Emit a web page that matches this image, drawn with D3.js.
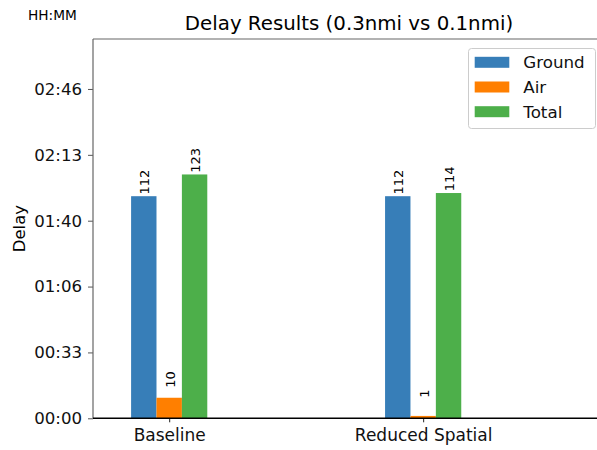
<!DOCTYPE html>
<html>
<head>
<meta charset="utf-8">
<script src="https://cdn.jsdelivr.net/npm/d3@7"></script>
<style>
  html, body { margin: 0; padding: 0; background: #fff; }
  svg { display: block; font-family: "DejaVu Sans", sans-serif; }
</style>
</head>
<body>
<svg id="chart" width="597" height="450"></svg>
<script>
// ---- data (delay in minutes) ----
const categories = ["Baseline", "Reduced Spatial"];
const seriesNames = ["Ground", "Air", "Total"];
const ground = [112.4, 112.4];
const air = [10.4, 1.2];
const total = [123.4, 114.0];
const yTicksSeconds = [0, 2000, 4000, 6000, 8000, 10000];
const colors = ["#377eb8", "#ff7f00", "#4daf4a"];
const titleText = "Delay Results (0.3nmi vs 0.1nmi)";

const series = [ground, air, total];

const svg = d3.select("#chart");
const margin = { left: 93, top: 39, right: 605, bottom: 418.3 };

const x = d3.scaleLinear().domain([-0.3, 1.716]).range([margin.left, margin.right]);
const y = d3.scaleLinear().domain([0, 11517]).range([margin.bottom, margin.top]);
const barW = 0.1;

function fmt(sec) {
  const totalMin = Math.floor(sec / 60);
  const h = Math.floor(totalMin / 60), m = totalMin % 60;
  return String(h).padStart(2, "0") + ":" + String(m).padStart(2, "0");
}

// bars
series.forEach((vals, si) => {
  const g = svg.append("g");
  g.selectAll("rect").data(vals).enter().append("rect")
    .attr("x", (d, i) => x(i + (si - 1) * barW - barW / 2))
    .attr("width", x(barW) - x(0))
    .attr("y", d => y(d * 60))
    .attr("height", d => y(0) - y(d * 60))
    .attr("fill", colors[si]);
  g.selectAll("text").data(vals).enter().append("text")
    .attr("transform", (d, i) => `translate(${x(i + (si - 1) * barW) + 1},${y(d * 60) - 26.5}) rotate(-90)`)
    .attr("text-anchor", "end")
    .attr("dominant-baseline", "central")
    .attr("font-size", 13)
    .attr("fill", "#000")
    .text(d => Math.round(d));
});

// y axis
const yAxis = d3.axisLeft(y).tickValues(yTicksSeconds).tickFormat(fmt).tickSize(5).tickPadding(6);
const gy = svg.append("g").attr("transform", `translate(${margin.left},0)`).call(yAxis);
gy.select(".domain").remove();
gy.selectAll(".tick line").attr("stroke", "#555");
gy.selectAll(".tick text").attr("font-size", 16.6).attr("font-family", "DejaVu Sans").attr("fill", "#111");

// x axis
const xAxis = d3.axisBottom(x).tickValues(categories.map((c, i) => i)).tickFormat(i => categories[i]).tickSize(4).tickPadding(7);
const gx = svg.append("g").attr("transform", `translate(0,${margin.bottom})`).call(xAxis);
gx.select(".domain").remove();
gx.selectAll(".tick line").attr("stroke", "#222");
gx.selectAll(".tick text").attr("font-size", 17).attr("font-family", "DejaVu Sans").attr("fill", "#111");

// spines
svg.append("line").attr("x1", margin.left).attr("x2", margin.left).attr("y1", margin.top).attr("y2", margin.bottom)
  .attr("stroke", "#666").attr("stroke-width", 1.2);
svg.append("line").attr("x1", margin.left).attr("x2", margin.right).attr("y1", margin.top).attr("y2", margin.top)
  .attr("stroke", "#666").attr("stroke-width", 1.2);
svg.append("line").attr("x1", margin.left).attr("x2", margin.right).attr("y1", margin.bottom).attr("y2", margin.bottom)
  .attr("stroke", "#000").attr("stroke-width", 1.5);

// title
svg.append("text").attr("x", (margin.left + margin.right) / 2).attr("y", 30)
  .attr("text-anchor", "middle").attr("font-size", 19.8).attr("fill", "#000").text(titleText);

// HH:MM
svg.append("text").attr("x", 28).attr("y", 20).attr("font-size", 13.7).attr("fill", "#000").text("HH:MM");

// y label
svg.append("text").attr("transform", `translate(25,${(margin.top + margin.bottom) / 2}) rotate(-90)`)
  .attr("text-anchor", "middle").attr("font-size", 16.5).attr("fill", "#000").text("Delay");

// legend
const lg = svg.append("g");
lg.append("rect").attr("x", 468.5).attr("y", 48.5).attr("width", 127).attr("height", 80)
  .attr("rx", 3).attr("fill", "#fff").attr("fill-opacity", 0.8).attr("stroke", "#ccc");
seriesNames.forEach((n, i) => {
  const cy = 62.3 + i * 24.7;
  lg.append("rect").attr("x", 474.7).attr("y", cy - 5.5).attr("width", 34.6).attr("height", 11).attr("fill", colors[i]);
  lg.append("text").attr("x", 523.3).attr("y", cy).attr("dominant-baseline", "central")
    .attr("font-size", 16.7).attr("fill", "#111").text(n);
});
</script>
</body>
</html>
